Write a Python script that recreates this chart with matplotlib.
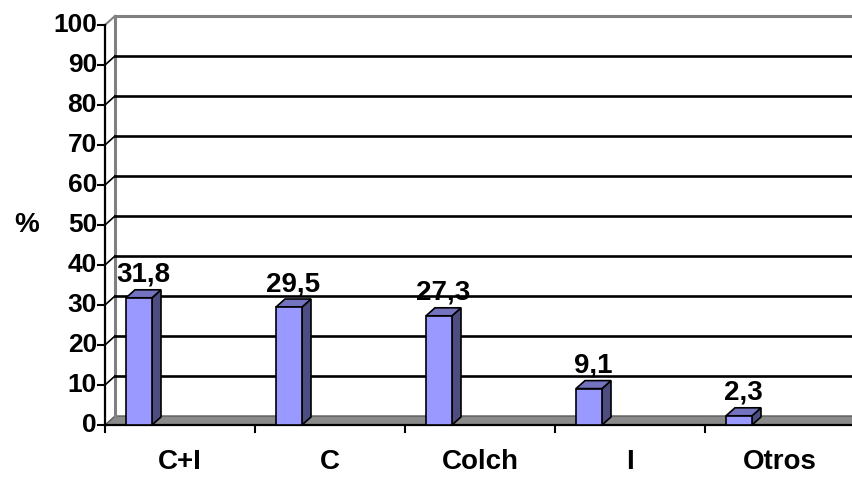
import matplotlib
matplotlib.use("Agg")
import matplotlib.pyplot as plt
from matplotlib.patches import Polygon

categories = ["C+I", "C", "Colch", "I", "Otros"]
values = [31.8, 29.5, 27.3, 9.1, 2.3]
value_labels = ["31,8", "29,5", "27,3", "9,1", "2,3"]
yticks = [0, 10, 20, 30, 40, 50, 60, 70, 80, 90, 100]

plt.rcParams["font.family"] = ["Liberation Sans", "DejaVu Sans"]
plt.rcParams["font.weight"] = "bold"

W, H = 853, 478
fig = plt.figure(figsize=(W / 100, H / 100), dpi=100)
fig.patch.set_facecolor("white")

# front plane: x from px 105 to 855, y 0 at px 425, 100 at px 25
ax = fig.add_axes([105 / W, (H - 425) / H, 750 / W, 400 / H])
ax.set_xlim(0, 5)
ax.set_ylim(0, 100)
ax.axis("off")

px_x = 5 / 750.0   # data units per pixel (x)
px_y = 100 / 400.0  # data units per pixel (y)

# depth offsets for walls and bars
WDX, WDY = 10 * px_x, 9 * px_y
BDX, BDY = 9 * px_x, 8 * px_y

# floor
floor = Polygon([(0, 0), (5.2, 0), (5.2 + WDX, WDY), (WDX, WDY)], closed=True,
                facecolor="#8a8a8a", edgecolor="#5a5a5a", lw=1, zorder=1, clip_on=False)
ax.add_patch(floor)

# back wall edges (grey)
ax.plot([WDX, WDX], [WDY, 100 + WDY], color="#808080", lw=2.2, zorder=1, clip_on=False)
ax.plot([WDX, 5.2], [100 + WDY, 100 + WDY], color="#808080", lw=2.2, zorder=1, clip_on=False)
ax.plot([0, WDX], [100, 100 + WDY], color="#808080", lw=1.5, zorder=1, clip_on=False)

# gridlines on back wall and side wall
for v in yticks[1:-1]:
    ax.plot([WDX, 5.2], [v + WDY, v + WDY], color="black", lw=1.9, zorder=2, clip_on=False)
    ax.plot([0, WDX], [v, v + WDY], color="black", lw=1.2, zorder=2, clip_on=False)

# front axes lines
ax.plot([0, 0], [0, 100], color="black", lw=1.6, zorder=5, clip_on=False)
ax.plot([0, 5.2], [0, 0], color="black", lw=1.6, zorder=5, clip_on=False)
for v in yticks:
    ax.plot([-7 * px_x, 0], [v, v], color="black", lw=1.5, zorder=5, clip_on=False)
    ax.text(-8 * px_x, v, str(v), ha="right", va="center", fontsize=19,
            fontweight="bold", color="black")
for k in range(5):
    ax.plot([k, k], [0, -7 * px_y], color="black", lw=1.5, zorder=5, clip_on=False)

# bars
front_c = "#9999ff"
side_c = "#4d4d80"
top_c = "#7373bf"
bar_off = 21 * px_x
bar_w = 26 * px_x
for i, (v, lab) in enumerate(zip(values, value_labels)):
    x0 = i + bar_off
    x1 = x0 + bar_w
    side = Polygon([(x1, 0), (x1 + BDX, BDY), (x1 + BDX, v + BDY), (x1, v)], closed=True,
                   facecolor=side_c, edgecolor="black", lw=1.2, zorder=6, clip_on=False)
    top = Polygon([(x0, v), (x1, v), (x1 + BDX, v + BDY), (x0 + BDX, v + BDY)], closed=True,
                  facecolor=top_c, edgecolor="black", lw=1.2, zorder=6, clip_on=False)
    front = Polygon([(x0, 0), (x1, 0), (x1, v), (x0, v)], closed=True,
                    facecolor=front_c, edgecolor="black", lw=1.2, zorder=7, clip_on=False)
    ax.add_patch(side)
    ax.add_patch(top)
    ax.add_patch(front)
    ax.text(x0 + (bar_w + BDX) / 2, v + BDY + 0.5, lab, ha="center", va="bottom",
            fontsize=20, fontweight="bold", color="black", zorder=8)

# category labels
for i, c in enumerate(categories):
    ax.text(i + 0.5, -37 * px_y, c, ha="center", va="center", fontsize=20,
            fontweight="bold", color="black")

# axis title
fig.text(27 / W, 1 - 225 / H, "%", ha="center", va="center", fontsize=20,
         fontweight="bold", color="black")

fig.savefig("out.png", dpi=100, facecolor="white")
